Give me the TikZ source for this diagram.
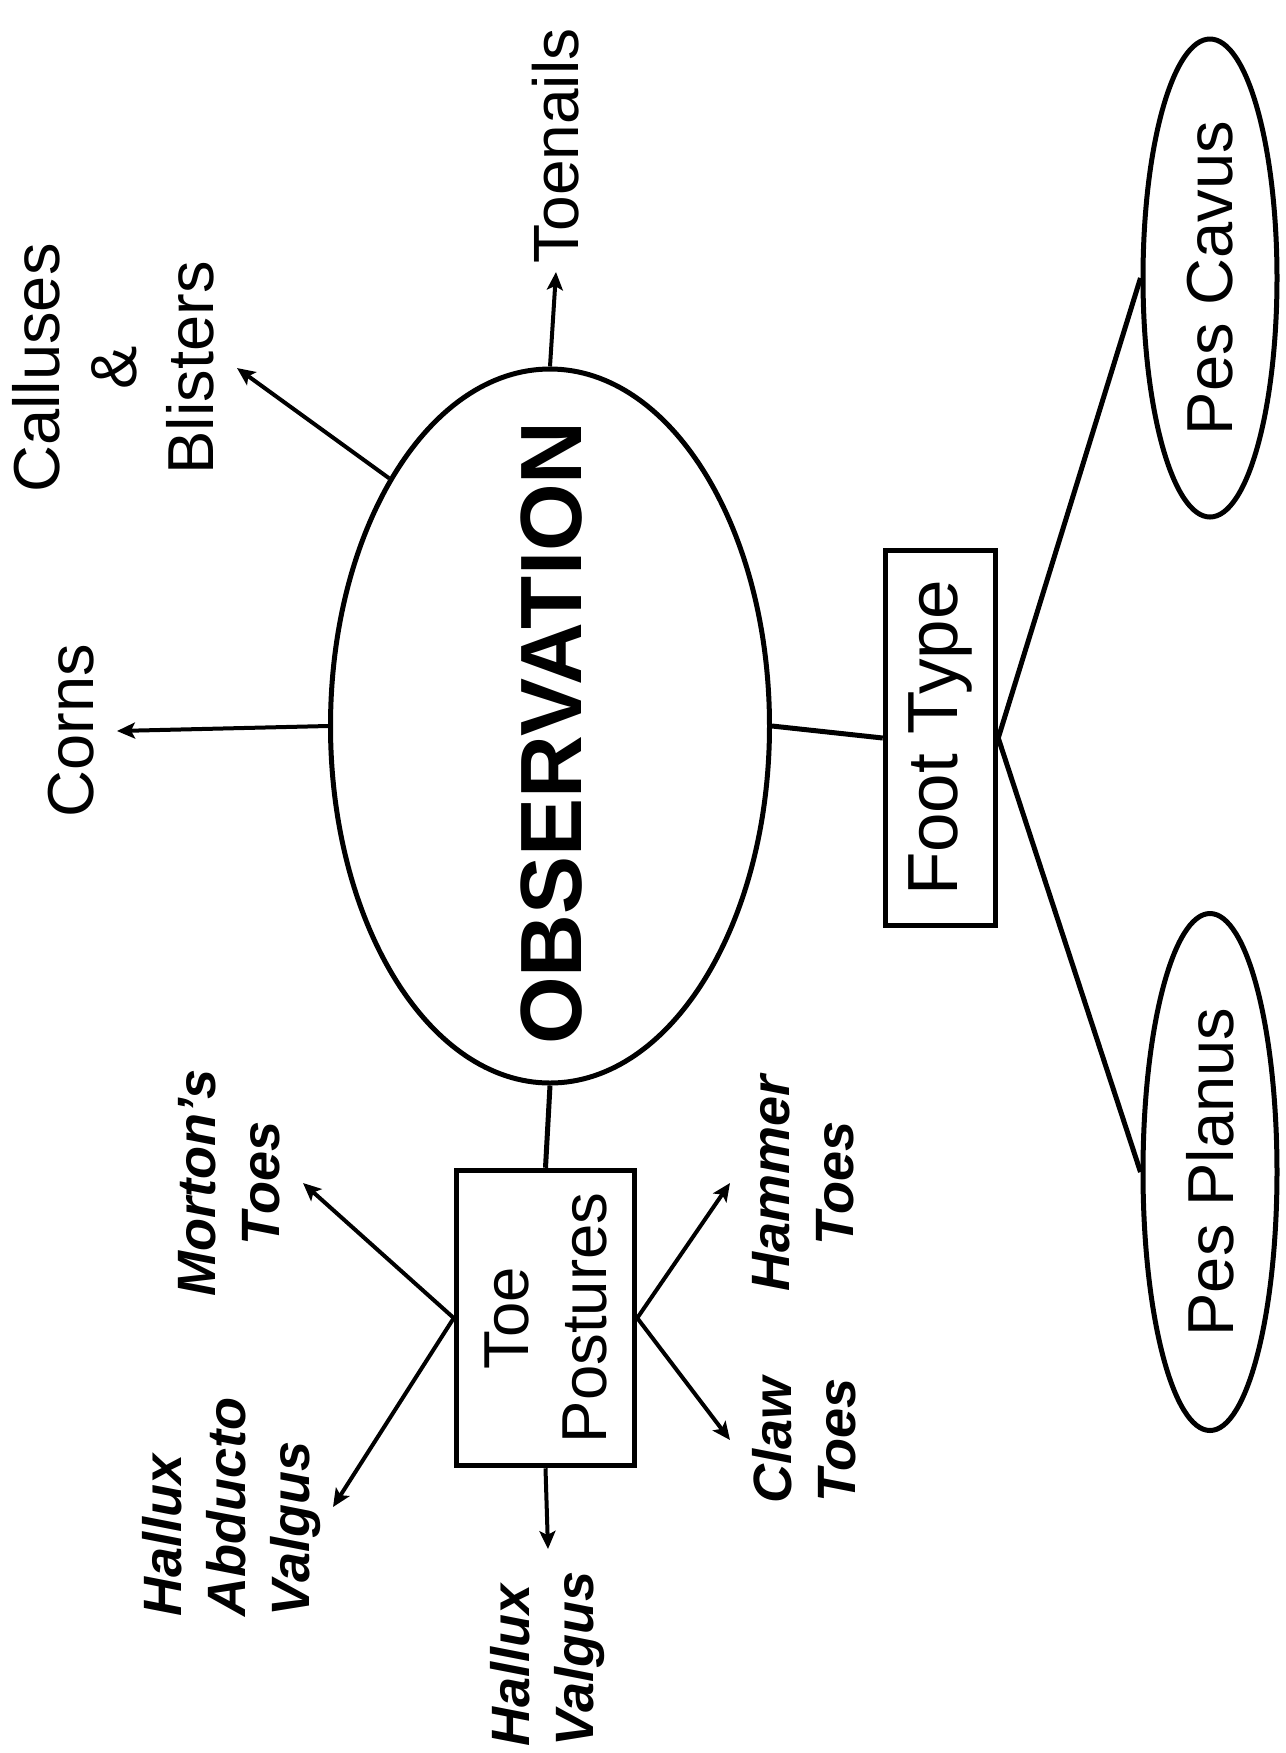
\documentclass[tikz,border=0pt]{standalone}
\usepackage{fontspec}
\setmainfont{Liberation Sans}
\usepackage{tikz}
\usetikzlibrary{arrows.meta}
\usetikzlibrary{shapes.geometric}
\tikzstyle{arr}=[-{Stealth[length=9pt,width=8pt,inset=2pt]},line width=2pt]
\tikzstyle{obsv}=[ellipse,draw,inner sep=0pt,minimum width=219.5pt,minimum height=357pt]
\tikzstyle{pes}=[ellipse,draw,rotate=90,inner sep=0pt,minimum height=67pt,
                font=\fontsize{32.5}{39}\selectfont]
\tikzstyle{boxed}=[rectangle,draw,rotate=90,line width=2.75pt,align=center,inner sep=0pt]
\tikzstyle{lbl}=[rotate=90,inner sep=10pt,align=center,font=\fontsize{32.5}{38.5}\selectfont]
\tikzstyle{lbli}=[lbl,font=\fontsize{27}{32}\selectfont\bfseries\itshape]
\begin{document}
\begin{tikzpicture}[x=0.5pt,y=-0.5pt,line width=2.5pt]
\useasboundingbox (0,0) rectangle (1286,1753);
\node (obs) at (550,726)[obsv]{};
\node (obstxt) at (552,733)[rotate=90,font=\fontsize{43.5}{50}\selectfont\bfseries]{OBSERVATION};
\node (ft) at (940.5,738)[boxed,minimum width=187.5pt,minimum height=55pt,
      font=\fontsize{35.5}{42}\selectfont]{Foot Type};
\node (tp) at (545.5,1318)[boxed,minimum width=147.5pt,minimum height=89pt,
      font=\fontsize{31.75}{39}\selectfont]{Toe\\Postures};
\node (cavus) at (1210,278)[pes,minimum width=239pt]{Pes Cavus};
\node (planus) at (1210,1172)[pes,minimum width=258.5pt]{Pes Planus};
\node (corns) at (117,731)[lbl,anchor=south]{Corns};
\node (calluses) at (237,368)[lbl,anchor=south]{Calluses\\\&\\Blisters};
\node (toenails) at (556,272)[lbl,anchor=west,inner sep=3pt,font=\fontsize{32}{38}\selectfont]{Toenails};
\node (morton) at (303,1183)[lbli,anchor=south]{Morton’s\\Toes};
\node (hav) at (333,1507)[lbli,anchor=south,align=left,inner sep=5pt]{Hallux\\Abducto\\Valgus};
\node (hv) at (548,1549)[lbli,anchor=east,align=left]{Hallux\\Valgus};
\node (hammer) at (730,1183)[lbli,anchor=north]{Hammer\\Toes};
\node (claw) at (730,1440)[lbli,anchor=north]{Claw\\Toes};
\draw (obs.east) -- (ft.north);
\draw (obs.south) -- (tp.east);
\foreach \s/\t in {obs.west/corns.south,obs.123/calluses.south,obs.north/toenails.west,tp.west/hv.east}
\draw[arr] (\s) -- (\t);
\foreach \t in {morton,hav}
\draw[arr] (tp.north) -- (\t.south);
\foreach \t in {hammer,claw}
\draw[arr] (tp.south) -- (\t.north);
\foreach \t in {cavus,planus}
\draw (ft.south) -- (\t.north);
\end{tikzpicture}
\end{document}
